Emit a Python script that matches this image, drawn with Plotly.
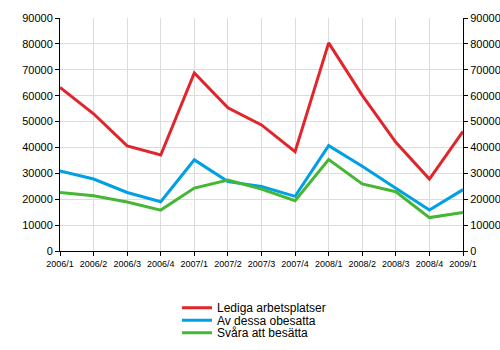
import plotly.graph_objects as go

quarters = ["2006/1", "2006/2", "2006/3", "2006/4", "2007/1", "2007/2", "2007/3",
            "2007/4", "2008/1", "2008/2", "2008/3", "2008/4", "2009/1"]
lediga = [63200, 53000, 40600, 37100, 68800, 55300, 48700, 38400, 80400, 60100, 42000, 27800, 46200]
obesatta = [30900, 27800, 22600, 19000, 35200, 26800, 24900, 21100, 40700, 32700, 24200, 15800, 23700]
svara = [22600, 21300, 18900, 15800, 24300, 27400, 23900, 19400, 35300, 25900, 22900, 12900, 14900]

names = ["Lediga arbetsplatser", "Av dessa obesatta", "Svåra att besätta"]
colors = ["#e0262c", "#00a0e3", "#45b734"]
series = [lediga, obesatta, svara]
legend_ids = ["legend", "legend2", "legend3"]

FONT = "Liberation Sans, Arial, sans-serif"
W, H = 500, 350

fig = go.Figure()
for name, vals, col, lg in zip(names, series, colors, legend_ids):
    fig.add_trace(go.Scatter(x=quarters, y=vals, mode="lines", name=name,
                             line=dict(color=col, width=3), legend=lg))
# invisible trace driving the mirrored right axis
fig.add_trace(go.Scatter(x=quarters, y=lediga, yaxis="y2", mode="lines",
                         line=dict(width=0), showlegend=False, hoverinfo="skip"))

axis_font = dict(family=FONT, size=11, color="#000")
plot_left, plot_right, plot_top, plot_bottom = 60, 463, 18, 251
plot_w = plot_right - plot_left
plot_h = plot_bottom - plot_top

fig.update_layout(
    width=W, height=H,
    margin=dict(l=plot_left, r=W - plot_right, t=plot_top, b=H - plot_bottom,
                autoexpand=False),
    paper_bgcolor="white", plot_bgcolor="white",
    font=dict(family=FONT, color="#000"),
    xaxis=dict(range=[0, 12], showgrid=True, gridcolor="#dcdcdc", gridwidth=1,
               ticks="outside", ticklen=4, tickcolor="#000",
               showline=True, linecolor="#000", linewidth=1,
               tickfont=dict(family=FONT, size=9, color="#000"),
               tickangle=0, zeroline=False, automargin=False),
    yaxis=dict(range=[0, 90000], dtick=10000, showgrid=True, gridcolor="#dcdcdc",
               ticks="outside", ticklen=4, tickcolor="#000",
               showline=True, linecolor="#000", linewidth=1,
               tickfont=axis_font, tickformat="d", zeroline=False, automargin=False),
    yaxis2=dict(range=[0, 90000], dtick=10000, overlaying="y", side="right",
                showgrid=False, ticks="outside", ticklen=4, tickcolor="#000",
                showline=True, linecolor="#000", linewidth=1,
                tickfont=axis_font, tickformat="d", zeroline=False, automargin=False),
    showlegend=True,
)

# one legend per series, stacked tightly below the plot
legend_centers = [307.7, 320.2, 332.7]
legend_left = 177
for lg, cy in zip(legend_ids, legend_centers):
    fig.update_layout({lg: dict(
        x=(legend_left - plot_left) / plot_w,
        y=-(cy - plot_bottom) / plot_h,
        xanchor="left", yanchor="middle",
        font=dict(size=12, family=FONT, color="#000"),
        bgcolor="rgba(0,0,0,0)",
    )})

fig.write_html("out.html")
